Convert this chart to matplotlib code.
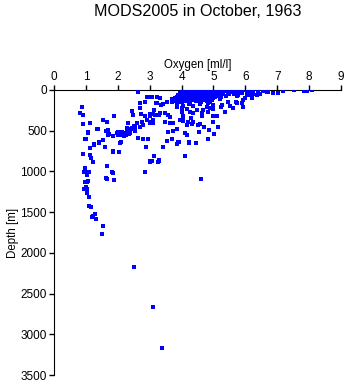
import matplotlib
matplotlib.use('Agg')

import matplotlib.pyplot as plt

plt.rcParams['font.family'] = ['Liberation Sans', 'DejaVu Sans']
plt.rcParams['font.size'] = 8.3

title = "MODS2005 in October, 1963"
x_label = "Oxygen [ml/l]"
y_label = "Depth [m]"
x_ticks = [0, 1, 2, 3, 4, 5, 6, 7, 8, 9]
y_ticks = [0, 500, 1000, 1500, 2000, 2500, 3000, 3500]

# deep / low oxygen tail
oxy_tail = [0.91, 1.13, 0.91, 1.07, 1.0, 1.13, 1.13, 1.16, 1.22, 1.25, 1.38, 1.41,
            1.54, 1.6, 1.66, 1.63, 1.69, 1.85, 1.85, 1.85, 1.88, 1.66, 2.04, 2.1,
            2.0, 0.94, 1.0, 1.1, 0.97, 1.03, 1.03, 0.97, 1.03, 0.94, 1.03, 1.1,
            1.1, 1.16, 1.22, 1.29, 1.32, 1.54, 1.5, 2.51, 3.1, 3.39, 0.88, 0.82,
            0.91, 1.07, 0.97, 1.35, 1.54, 1.66, 1.88, 1.69, 1.72, 1.82, 1.63, 1.07,
            1.0, 1.19, 2.85, 3.26, 1.41, 1.25]
dep_tail = [418, 405, 786, 516, 602, 712, 798, 835, 884, 663, 479, 651,
            614, 700, 933, 503, 553, 565, 749, 1019, 1105, 1093, 761, 639,
            553, 1007, 1007, 1007, 958, 1044, 1130, 1130, 1216, 1216, 1265, 1314,
            1425, 1437, 1547, 1523, 1584, 1670, 1768, 2174, 2665, 3168, 209, 282,
            307, 528, 602, 479, 368, 393, 319, 491, 540, 1007, 1081, 1117,
            1191, 1560, 1007, 884, 643, 670]

# middle band 2-4 ml/l
oxy_mid = [2.63, 2.92, 3.07, 3.23, 3.2, 2.85, 2.7, 1.85, 2.07, 1.97, 2.0, 2.15,
           2.32, 2.45, 2.48, 2.7, 2.73, 2.85, 3.0, 3.17, 3.29, 2.6, 2.76, 2.92,
           3.0, 3.1, 2.7, 2.54, 2.45, 2.38, 2.23, 2.07, 2.63, 2.79, 2.95, 2.88,
           3.07, 3.0, 3.29, 2.29, 2.26, 2.4, 2.55, 2.35, 2.2, 2.12, 3.54, 3.92,
           3.86, 4.23, 4.45, 3.42, 3.13, 3.0, 3.29, 4.11, 4.61, 3.04, 3.0, 3.23,
           3.32, 3.23, 3.42, 3.54, 3.7, 3.76, 3.86, 3.95, 3.0, 3.1, 3.1, 3.0,
           3.48, 3.57, 3.32, 3.64, 3.48, 3.64, 3.73, 3.95, 3.57, 3.7, 3.73, 3.86,
           3.89, 2.5, 2.3, 2.8, 3.15, 3.35]
dep_mid = [20, 81, 81, 86, 160, 147, 160, 761, 651, 528, 516, 530,
           405, 258, 307, 221, 295, 319, 319, 307, 307, 405, 393, 368,
           393, 405, 454, 454, 466, 528, 528, 553, 589, 602, 602, 700,
           872, 884, 860, 491, 553, 480, 500, 545, 560, 510, 626, 639,
           663, 651, 651, 700, 810, 872, 872, 810, 1093, 872, 86, 86,
           98, 160, 172, 147, 110, 135, 160, 147, 295, 295, 368, 405,
           282, 307, 282, 331, 393, 405, 405, 368, 516, 602, 503, 479,
           639, 440, 470, 430, 240, 190]

# upper layer 4-8 ml/l
oxy_top = [5.02, 4.83, 4.23, 4.11, 4.17, 4.98, 4.86, 4.36, 4.58, 4.64, 5.11, 5.24,
           5.36, 5.52, 5.74, 5.61, 5.92, 5.99, 6.21, 6.36, 6.68, 6.87, 7.02, 7.18,
           7.52, 7.84, 7.93, 8.09, 5.77, 5.3, 3.86, 4.04, 4.23, 4.36, 4.58, 4.83,
           4.98, 4.8, 4.98, 4.04, 4.04, 4.29, 4.2, 4.33, 4.51, 4.17, 4.98, 4.83,
           4.64, 4.26, 4.36, 4.01, 4.17, 4.01, 4.89, 4.48, 4.67, 5.27, 5.45, 5.71,
           5.74, 6.05, 6.14, 6.24, 6.46, 6.71, 5.92, 5.89, 4.04, 4.7, 4.55, 5.15]
dep_top = [540, 602, 639, 528, 553, 393, 491, 393, 418, 319, 319, 209,
           270, 196, 160, 221, 209, 98, 98, 61, 25, 37, 37, 12,
           0, 12, 12, 0, 61, 37, 209, 196, 172, 196, 172, 160,
           184, 209, 233, 319, 344, 344, 393, 418, 430, 430, 319, 270,
           282, 270, 282, 270, 233, 221, 221, 246, 246, 184, 147, 147,
           74, 61, 61, 49, 49, 25, 123, 160, 381, 460, 520, 450]

# dense near-surface cluster
oxy_surf = [4.05, 4.15, 4.25, 4.35, 4.45, 4.55, 4.65, 4.75, 4.85, 4.95, 5.05, 5.15,
            5.25, 5.35, 5.5, 5.6, 5.7, 5.85, 6.0, 6.1, 6.25, 6.4, 6.55,
            4.0, 4.1, 4.2, 4.3, 4.4, 4.5, 4.6, 4.7, 4.8, 4.9, 5.0, 5.1,
            5.2, 5.3, 5.45, 5.55, 5.75, 5.9, 6.05,
            3.95, 4.1, 4.2, 4.35, 4.45, 4.55, 4.7, 4.8, 4.9, 5.0, 5.15, 5.3,
            5.5, 5.65,
            3.9, 4.0, 4.15, 4.25, 4.4, 4.5, 4.6, 4.75, 4.85, 4.95, 5.1, 5.2, 5.4,
            3.85, 4.0, 4.1, 4.2, 4.3, 4.45, 4.6, 4.7, 4.8, 4.9, 5.05, 5.25,
            3.8, 3.95, 4.05, 4.2, 4.35, 4.5, 4.65, 4.75, 4.9, 5.0, 5.2,
            3.75, 3.9, 4.0, 4.15, 4.3, 4.4, 4.55, 4.7, 4.85, 4.95,
            3.7, 3.85, 4.0, 4.1, 4.25, 4.45, 4.6, 4.8, 4.9]
dep_surf = [5, 3, 8, 4, 6, 2, 7, 5, 3, 8, 4, 6,
            5, 9, 4, 7, 3, 10, 6, 12, 8, 15, 10,
            22, 18, 25, 20, 24, 19, 23, 21, 26, 18, 22, 25,
            20, 28, 24, 30, 27, 33, 35,
            42, 38, 45, 40, 44, 39, 43, 41, 46, 38, 48, 44,
            50, 55,
            62, 58, 65, 60, 64, 59, 63, 61, 66, 58, 68, 64, 70,
            82, 78, 85, 80, 84, 79, 83, 81, 86, 78, 88, 92,
            102, 98, 105, 100, 104, 99, 103, 101, 106, 98, 110,
            122, 118, 125, 120, 124, 119, 123, 121, 126, 128,
            142, 138, 145, 140, 144, 139, 143, 141, 146]

oxygen = oxy_tail + oxy_mid + oxy_top + oxy_surf
depth = dep_tail + dep_mid + dep_top + dep_surf

fig = plt.figure(figsize=(3.45, 3.84), dpi=100)
ax = fig.add_axes([54 / 345, 9 / 384, 287 / 345, 285 / 384])
ax.scatter(oxygen, depth, marker='s', s=7, color='#0000ff', linewidths=0, zorder=3)

ax.set_xlim(0, 9)
ax.set_ylim(3500, 0)
ax.set_xticks(x_ticks)
ax.set_yticks(y_ticks)
ax.xaxis.tick_top()
ax.xaxis.set_label_position('top')
ax.tick_params(direction='out', length=3.6, width=1, pad=1.5, labelsize=8.5)
ax.spines['right'].set_visible(False)
ax.spines['bottom'].set_visible(False)
ax.set_xlabel(x_label, fontsize=8.3, labelpad=2)
ax.set_ylabel(y_label, fontsize=8.3, labelpad=1)
ax.text(0.5, 1.274, title, transform=ax.transAxes, ha='center', va='center', fontsize=11.6)

fig.savefig('out.png', dpi=100)
